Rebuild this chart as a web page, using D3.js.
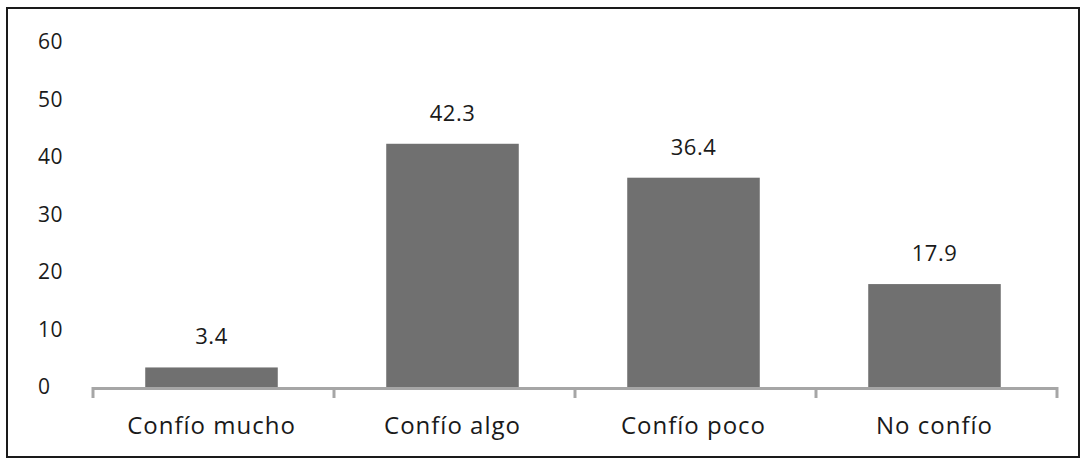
<!DOCTYPE html>
<html><head><meta charset="utf-8">
<script src="https://cdn.jsdelivr.net/npm/d3@7"></script>
<style>body{margin:0;background:#fff}svg{display:block}text{font-family:"Open Sans",sans-serif;fill:#1a1a1a}</style>
</head><body><svg id="c" width="1086" height="464"></svg>
<script>
const categories = ["Confío mucho", "Confío algo", "Confío poco", "No confío"];
const values = [3.4, 42.3, 36.4, 17.9];
const yTicks = [0, 10, 20, 30, 40, 50, 60];

const svg = d3.select("#c");
svg.append("rect").attr("x", 7).attr("y", 8).attr("width", 1072).attr("height", 449)
  .attr("fill", "none").attr("stroke", "#1a1a1a").attr("stroke-width", 2);

const x = d3.scaleBand().domain(categories).range([91, 1055]).paddingInner(0.45).paddingOuter(0.225);
const y = d3.scaleLinear().domain([0, 60]).range([387, 42]);

// y labels
svg.append("g").selectAll("text").data(yTicks).join("text")
  .attr("x", 38).attr("y", d => y(d)).attr("dy", "0.35em")
  .attr("font-size", 21).attr("letter-spacing", 0.5).text(d => d);

// bars
svg.append("g").selectAll("rect").data(values).join("rect")
  .attr("x", (d, i) => x(categories[i])).attr("width", x.bandwidth())
  .attr("y", d => y(d)).attr("height", d => y(0) - y(d))
  .attr("fill", "#707070");

// x axis
const bounds = d3.range(categories.length + 1).map(i => 93 + i * (1057 - 93) / categories.length);
const ax = svg.append("g");
ax.append("line").attr("x1", 93).attr("x2", 1057).attr("y1", y(0) + 1.5).attr("y2", y(0) + 1.5)
  .attr("stroke", "#a6a6a6").attr("stroke-width", 3);
ax.selectAll("line.t").data(bounds).join("line").attr("class", "t")
  .attr("x1", d => d).attr("x2", d => d).attr("y1", y(0)).attr("y2", y(0) + 11)
  .attr("stroke", "#a6a6a6").attr("stroke-width", 3);
ax.selectAll("text").data(categories).join("text")
  .attr("x", d => x(d) + x.bandwidth() / 2).attr("y", 434)
  .attr("text-anchor", "middle").attr("font-size", 24).attr("letter-spacing", 1).text(d => d);

// value labels
svg.append("g").selectAll("text").data(values).join("text")
  .attr("x", (d, i) => x(categories[i]) + x.bandwidth() / 2).attr("y", d => y(d) - 23)
  .attr("text-anchor", "middle").attr("font-size", 22).attr("letter-spacing", 0.5).text(d => d.toFixed(1));
</script></body></html>
